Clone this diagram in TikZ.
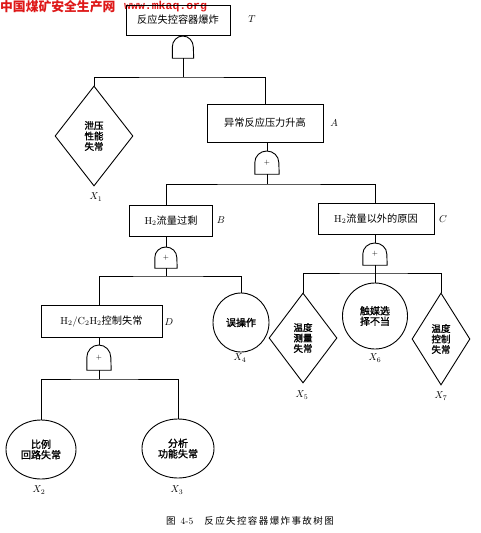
\documentclass[tikz,border=0pt]{standalone}
\usepackage{fontspec}
\newfontfamily\cjk{Noto Sans CJK SC}
\newfontfamily\cjkfb{Noto Sans CJK SC}[FakeBold=1.6]
\newfontfamily\wmono{Liberation Mono}
\usetikzlibrary{shapes.geometric}
\definecolor{wmred}{RGB}{222,24,24}
\newcommand\gateshape[3]{\draw[gateline] (#1.south west) -- (#1.west) arc[start angle=180, end angle=0, x radius=#2, y radius=#3] -- (#1.south east) -- cycle;}
\newcommand\ks{\kern1.4pt}
\begin{document}
\begin{tikzpicture}[x=1pt,y=-1pt,
  conn/.style={line width=0.9pt},
  gateline/.style={line width=0.9pt},
  evbox/.style={draw, line width=0.9pt, rectangle, inner sep=0pt, font=\cjk\fontsize{10.2}{12}\selectfont},
  gatenode/.style={rectangle, inner sep=0pt, font=\fontsize{7}{7}\selectfont},
  basic/.style={draw, line width=0.9pt, ellipse, inner sep=0pt, align=center, font=\cjkfb\fontsize{10}{10.5}\selectfont},
  undev/.style={draw, line width=0.9pt, diamond, inner sep=0pt, align=center, font=\cjkfb\fontsize{9.5}{10.5}\selectfont},
  lbl/.style={inner sep=0pt, font=\fontsize{10}{12}\selectfont}]
\useasboundingbox (0,0) rectangle (480,533);
% watermark
\node[anchor=west, inner sep=0pt, text=wmred, font=\cjk\bfseries\fontsize{12.8}{13}\selectfont] (wm1) at (0,6.5) {中国煤矿安全生产网};
\node[anchor=west, inner sep=0pt, text=wmred, font=\wmono\bfseries\fontsize{11.5}{12}\selectfont] (wm2) at (124,7) {www.mkaq.org};
% top event
\node[evbox, minimum width=104pt, minimum height=30pt] (T) at (178,20) {反应失控容器爆炸};
\node[lbl] (Tl) at (252,19) {$T$};
\node[gatenode, minimum width=21pt, minimum height=22pt] (gT) at (183,47) {};
\gateshape{gT}{10.5pt}{11pt}
% level 1
\node[undev, minimum width=78pt, minimum height=100pt] (X1) at (94,136) {泄压\\性能\\失常};
\node[lbl] (X1l) at (96,197) {$X_1$};
\node[evbox, minimum width=116pt, minimum height=38pt] (A) at (265,123) {异常反应压力升高};
\node[lbl] (Al) at (334,123) {$A$};
\node[gatenode, minimum width=24pt, minimum height=23pt] (gA) at (267,162.5) {+};
\gateshape{gA}{12pt}{11.5pt}
% level 2
\node[evbox, minimum width=83pt, minimum height=31pt] (B) at (171,220.5) {{\rmfamily H$_2$}流量过剩};
\node[lbl] (Bl) at (221,220) {$B$};
\node[gatenode, minimum width=22pt, minimum height=21pt] (gB) at (166,257.5) {+};
\gateshape{gB}{11pt}{10.5pt}
\node[evbox, minimum width=116pt, minimum height=31pt] (C) at (376,218.5) {{\rmfamily H$_2$}流量以外的原因};
\node[lbl] (Cl) at (443,219) {$C$};
\node[gatenode, minimum width=24pt, minimum height=22pt] (gC) at (375,254) {+};
\gateshape{gC}{12pt}{11pt}
% level 3
\node[evbox, minimum width=121pt, minimum height=32pt] (D) at (101.5,321) {{\rmfamily H$_2$/C$_2$H$_2$}控制失常};
\node[lbl] (Dl) at (169,322) {$D$};
\node[gatenode, minimum width=24pt, minimum height=25pt] (gD) at (99,357.5) {+};
\gateshape{gD}{12pt}{12.5pt}
\node[basic, minimum width=56pt, minimum height=59pt] (X4) at (241,322.5) {误操作};
\node[lbl] (X4l) at (240,358) {$X_4$};
\node[undev, minimum width=68pt, minimum height=90pt] (X5) at (303,338) {温度\\测量\\失常};
\node[lbl] (X5l) at (302,395) {$X_5$};
\node[basic, minimum width=65pt, minimum height=66pt] (X6) at (375,316) {触媒选\\择不当};
\node[lbl] (X6l) at (375,358) {$X_6$};
\node[undev, minimum width=58pt, minimum height=92pt] (X7) at (441,339) {温度\\控制\\失常};
\node[lbl] (X7l) at (441,396) {$X_7$};
% level 4
\node[basic, minimum width=70pt, minimum height=59pt] (X2) at (41,449.5) {比例\\回路失常};
\node[lbl] (X2l) at (39,490) {$X_2$};
\node[basic, minimum width=72pt, minimum height=59pt] (X3) at (178,448.5) {分析\\功能失常};
\node[lbl] (X3l) at (177,490) {$X_3$};
% caption
\node[inner sep=0pt, font=\cjk\fontsize{9.5}{11}\selectfont] (cap) at (250,521) {图\hspace{5pt}{\rmfamily 4-5}\hspace{11pt}反\ks 应\ks 失\ks 控\ks 容\ks 器\ks 爆\ks 炸\ks 事\ks 故\ks 树\ks 图};
% connectors
\coordinate (busT) at (183,77);
\coordinate (busA) at (267,184);
\coordinate (busB) at (166,276);
\coordinate (busC) at (375,273);
\coordinate (busD) at (99,379);
\draw[conn] (T.south -| gT.north) -- (gT.north);
\draw[conn] (gT.south) -- (busT);
\draw[conn] (X1.north) |- (busT) -| (A.north);
\draw[conn] (A.south -| gA.north) -- (gA.north);
\draw[conn] (gA.south) -- (busA);
\draw[conn] (B.north -| gB.north) |- (busA) -| (C.north -| gC.north);
\draw[conn] (B.south -| gB.north) -- (gB.north);
\draw[conn] (gB.south) -- (busB);
\draw[conn] (D.north -| gD.north) |- (busB) -| (X4.north);
\draw[conn] (D.south -| gD.north) -- (gD.north);
\draw[conn] (gD.south) -- (busD);
\draw[conn] (X2.north) |- (busD) -| (X3.north);
\draw[conn] (C.south -| gC.north) -- (gC.north);
\draw[conn] (gC.south) -- (busC);
\draw[conn] (X5.north) |- (busC) -| (X7.north);
\draw[conn] (busC) -- (X6.north);
\end{tikzpicture}
\end{document}
